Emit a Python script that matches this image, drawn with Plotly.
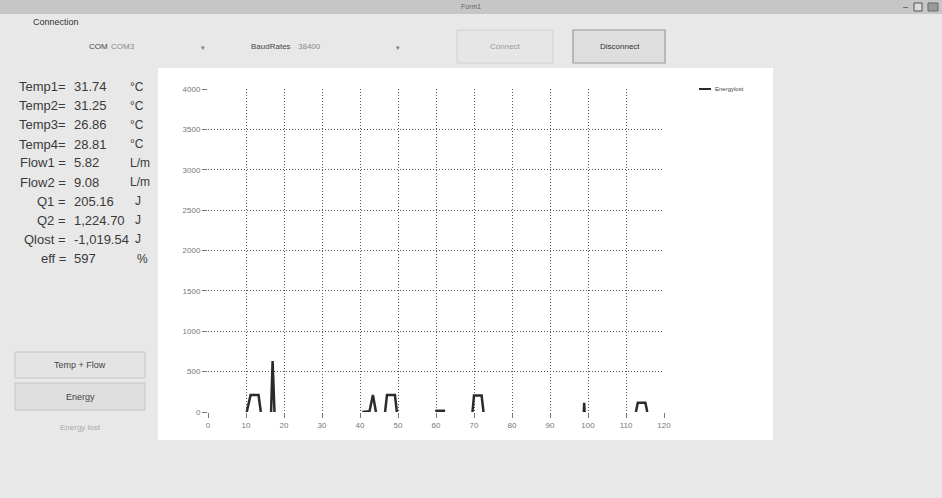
import plotly.graph_objects as go

# ---------------- data ----------------
energy_x = [10.2, 11.2, 13.3, 13.9, None,
            16.6, 17.0, 17.5, None,
            40.6, 42.5, 43.4, 44.2, None,
            46.6, 47.1, 49.2, 49.7, None,
            59.8, 62.4, None,
            69.6, 70.0, 72.0, 72.5, None,
            98.9, 99.0, 99.1, None,
            112.6, 113.1, 115.1, 115.6]
energy_y = [0, 210, 210, 0, None,
            0, 630, 0, None,
            0, 10, 210, 0, None,
            0, 210, 210, 0, None,
            15, 15, None,
            0, 205, 205, 0, None,
            0, 115, 0, None,
            0, 115, 115, 0]
series_name = "Energylost"

x_ticks = [0, 10, 20, 30, 40, 50, 60, 70, 80, 90, 100, 110, 120]
y_ticks = [0, 500, 1000, 1500, 2000, 2500, 3000, 3500, 4000]

readout_labels = ["Temp1=", "Temp2=", "Temp3=", "Temp4=", "Flow1 =", "Flow2 =",
                  "Q1 =", "Q2 =", "Qlost =", "eff ="]
readout_values = ["31.74", "31.25", "26.86", "28.81", "5.82", "9.08",
                  "205.16", "1,224.70", "-1,019.54", "597"]
readout_units = ["°C", "°C", "°C", "°C", "L/m", "L/m", "J", "J", "J", "%"]

# ---------------- layout helpers ----------------
W, H = 942, 498
L, R, T, B = 208, 664, 89, 412


def px(x):
    return (x - L) / (R - L)


def py(y):
    return (B - y) / (B - T)


FONT = "Liberation Sans, Arial, sans-serif"

fig = go.Figure()
fig.add_trace(go.Scatter(
    x=energy_x, y=energy_y, mode="lines", name=series_name,
    line=dict(color="#2b2b2b", width=2.5), showlegend=False,
    connectgaps=False))

shapes = []
annots = []


def rect(x0, y0, x1, y1, fill, line="rgba(0,0,0,0)", lw=1, layer="below"):
    shapes.append(dict(type="rect", xref="paper", yref="paper",
                       x0=px(x0), x1=px(x1), y0=py(y0), y1=py(y1),
                       fillcolor=fill, line=dict(color=line, width=lw),
                       layer=layer))


def text(x, y, s, size=9, color="#333", anchor="left"):
    annots.append(dict(xref="paper", yref="paper", x=px(x), y=py(y), text=s,
                       showarrow=False, xanchor=anchor, yanchor="middle",
                       font=dict(family=FONT, size=size, color=color),
                       borderpad=0))


# title bar
rect(0, 0, W, 14, "#c6c6c6")
text(471, 7, "Form1", 7, "#666", "center")
text(905, 7, "–", 9, "#444", "center")
rect(914, 3, 922, 11, "#dcdcdc", "#555", 1)
rect(928, 3, 938, 11, "#9a9a9a", "#666", 1)

# connection group
text(32, 22, "Connection", 9, "#333")
text(88, 46, "COM", 8, "#444")
text(110, 46, "COM3", 8, "#888")
text(203, 47, "▾", 7, "#777", "center")
text(250, 46, "BaudRates", 8, "#444")
text(297, 46, "38400", 8, "#888")
text(398, 47, "▾", 7, "#777", "center")
rect(457, 30, 553, 63, "#e6e6e6", "#d0d0d0", 1)
text(505, 46, "Connect", 8, "#999", "center")
rect(573, 30, 665, 63, "#dedede", "#9a9a9a", 1.2)
text(620, 46, "Disconnect", 8, "#333", "center")

# white chart panel
rect(158, 68, 773, 440, "#ffffff")

# readouts
row_y = [86.7, 105.7, 125, 144, 162.7, 182, 201, 220.3, 239, 258.7]
unit_x = {"°C": 129, "L/m": 129, "J": 134, "%": 136}
for yy, lab, val, unit in zip(row_y, readout_labels, readout_values, readout_units):
    text(67, yy, lab, 13, "#3a3a3a", "right")
    text(73, yy, val, 13, "#3a3a3a", "left")
    text(unit_x[unit], yy, unit, 12, "#3a3a3a", "left")

# buttons
rect(15, 352, 145, 378, "#e4e4e4", "#c4c4c4", 1)
text(80, 365, "Temp + Flow", 9, "#444", "center")
rect(15, 383, 145, 410, "#dedede", "#c4c4c4", 1)
text(80, 396.5, "Energy", 9, "#444", "center")
text(80, 428, "Energy lost", 8, "#aaa", "center")

# legend (manual)
shapes.append(dict(type="line", xref="paper", yref="paper",
                   x0=px(699), x1=px(711), y0=py(89), y1=py(89),
                   line=dict(color="#2b2b2b", width=2), layer="above"))
text(714, 89, series_name, 6, "#444", "left")

axis_common = dict(
    showgrid=True, gridcolor="#555", griddash="1px,2px", gridwidth=1,
    zeroline=False, showline=False,
    ticks="outside", ticklen=5, tickcolor="#777",
    tickfont=dict(family=FONT, size=8, color="#777"),
)

fig.update_layout(
    width=W, height=H,
    margin=dict(l=L, r=W - R, t=T, b=H - B, pad=0),
    paper_bgcolor="#e8e8e8", plot_bgcolor="#ffffff",
    shapes=shapes, annotations=annots, showlegend=False,
    xaxis=dict(range=[0, 120], tickvals=x_ticks, **axis_common),
    yaxis=dict(range=[0, 4000], tickvals=y_ticks, **axis_common),
)

fig.write_html("out.html",
               config={"displayModeBar": False},
               post_script="document.body.style.margin='0';"
                           "document.body.style.overflow='hidden';")
